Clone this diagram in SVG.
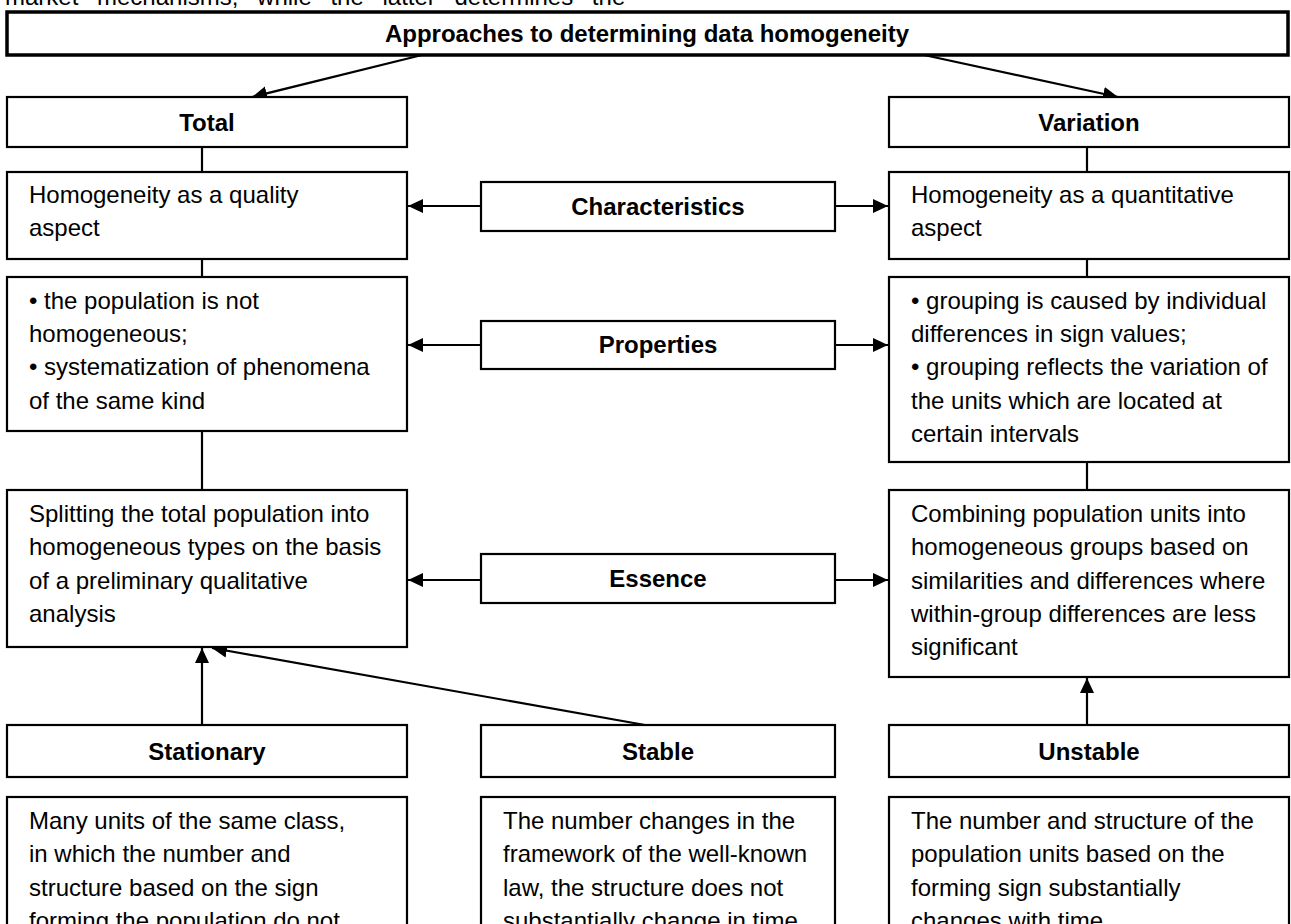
<svg xmlns="http://www.w3.org/2000/svg" width="1291" height="924" viewBox="0 0 1291 924">
<defs>
<style>
text{font-family:"Liberation Sans",Arial,sans-serif;font-size:24px;fill:#000}
.b{font-weight:bold;text-anchor:middle}
.box{fill:#fff;stroke:#000;stroke-width:2.2}
.title{fill:#fff;stroke:#000;stroke-width:3.5}
.c{stroke:#000;stroke-width:2.2;fill:none}
.a{marker-end:url(#ah)}
</style>
<marker id="ah" markerUnits="userSpaceOnUse" markerWidth="16" markerHeight="16" refX="15" refY="7" orient="auto">
<path d="M0,0 L15,7 L0,14 Z" fill="#000"/>
</marker>
</defs>
<rect width="1291" height="924" fill="#fff"/>
<text x="5" y="5" word-spacing="12">market mechanisms, while the latter determines the</text>

<g id="connectors">
<line class="c a" x1="422" y1="55" x2="252" y2="97"/>
<line class="c a" x1="924" y1="55" x2="1118" y2="97"/>
<line class="c" x1="202" y1="147" x2="202" y2="172"/>
<line class="c" x1="1087" y1="147" x2="1087" y2="172"/>
<line class="c" x1="202" y1="259" x2="202" y2="277"/>
<line class="c" x1="1087" y1="259" x2="1087" y2="277"/>
<line class="c" x1="202" y1="431" x2="202" y2="490"/>
<line class="c" x1="1087" y1="462" x2="1087" y2="490"/>
<line class="c a" x1="481" y1="206" x2="408" y2="206"/>
<line class="c a" x1="835" y1="206" x2="888" y2="206"/>
<line class="c a" x1="481" y1="345" x2="408" y2="345"/>
<line class="c a" x1="835" y1="345" x2="888" y2="345"/>
<line class="c a" x1="481" y1="580" x2="408" y2="580"/>
<line class="c a" x1="835" y1="580" x2="888" y2="580"/>
<line class="c a" x1="202" y1="725" x2="202" y2="648"/>
<line class="c a" x1="645" y1="725" x2="212" y2="648"/>
<line class="c a" x1="1087" y1="725" x2="1087" y2="678"/>
</g>

<g id="n-title">
<rect class="title" x="7" y="12" width="1281" height="43"/>
<text class="b" x="647" y="42">Approaches to determining data homogeneity</text>
</g>
<g id="n-total">
<rect class="box" x="7" y="97" width="400" height="50"/>
<text class="b" x="207" y="131">Total</text>
</g>
<g id="n-variation">
<rect class="box" x="889" y="97" width="400" height="50"/>
<text class="b" x="1089" y="131">Variation</text>
</g>
<g id="n-quality">
<rect class="box" x="7" y="172" width="400" height="87"/>
<text x="29" y="203">Homogeneity as a quality</text>
<text x="29" y="236">aspect</text>
</g>
<g id="n-characteristics">
<rect class="box" x="481" y="182" width="354" height="49"/>
<text class="b" x="658" y="215">Characteristics</text>
</g>
<g id="n-quantitative">
<rect class="box" x="889" y="172" width="400" height="87"/>
<text x="911" y="203">Homogeneity as a quantitative</text>
<text x="911" y="236">aspect</text>
</g>
<g id="n-prop-left">
<rect class="box" x="7" y="277" width="400" height="154"/>
<text x="29" y="309">• the population is not</text>
<text x="29" y="342">homogeneous;</text>
<text x="29" y="375">• systematization of phenomena</text>
<text x="29" y="409">of the same kind</text>
</g>
<g id="n-properties">
<rect class="box" x="481" y="321" width="354" height="48"/>
<text class="b" x="658" y="353">Properties</text>
</g>
<g id="n-prop-right">
<rect class="box" x="889" y="277" width="400" height="185"/>
<text x="911" y="309">• grouping is caused by individual</text>
<text x="911" y="342">differences in sign values;</text>
<text x="911" y="375">• grouping reflects the variation of</text>
<text x="911" y="409">the units which are located at</text>
<text x="911" y="442">certain intervals</text>
</g>
<g id="n-ess-left">
<rect class="box" x="7" y="490" width="400" height="157"/>
<text x="29" y="522">Splitting the total population into</text>
<text x="29" y="555">homogeneous types on the basis</text>
<text x="29" y="589">of a preliminary qualitative</text>
<text x="29" y="622">analysis</text>
</g>
<g id="n-essence">
<rect class="box" x="481" y="554" width="354" height="49"/>
<text class="b" x="658" y="587">Essence</text>
</g>
<g id="n-ess-right">
<rect class="box" x="889" y="490" width="400" height="187"/>
<text x="911" y="522">Combining population units into</text>
<text x="911" y="555">homogeneous groups based on</text>
<text x="911" y="589">similarities and differences where</text>
<text x="911" y="622">within-group differences are less</text>
<text x="911" y="655">significant</text>
</g>
<g id="n-stationary">
<rect class="box" x="7" y="725" width="400" height="52"/>
<text class="b" x="207" y="760">Stationary</text>
</g>
<g id="n-stable">
<rect class="box" x="481" y="725" width="354" height="52"/>
<text class="b" x="658" y="760">Stable</text>
</g>
<g id="n-unstable">
<rect class="box" x="889" y="725" width="400" height="52"/>
<text class="b" x="1089" y="760">Unstable</text>
</g>
<g id="n-stationary-desc">
<rect class="box" x="7" y="797" width="400" height="180"/>
<text x="29" y="829">Many units of the same class,</text>
<text x="29" y="862">in which the number and</text>
<text x="29" y="896">structure based on the sign</text>
<text x="29" y="929">forming the population do not</text>
</g>
<g id="n-stable-desc">
<rect class="box" x="481" y="797" width="354" height="180"/>
<text x="503" y="829">The number changes in the</text>
<text x="503" y="862">framework of the well-known</text>
<text x="503" y="896">law, the structure does not</text>
<text x="503" y="929">substantially change in time</text>
</g>
<g id="n-unstable-desc">
<rect class="box" x="889" y="797" width="400" height="180"/>
<text x="911" y="829">The number and structure of the</text>
<text x="911" y="862">population units based on the</text>
<text x="911" y="896">forming sign substantially</text>
<text x="911" y="929">changes with time</text>
</g>
</svg>
